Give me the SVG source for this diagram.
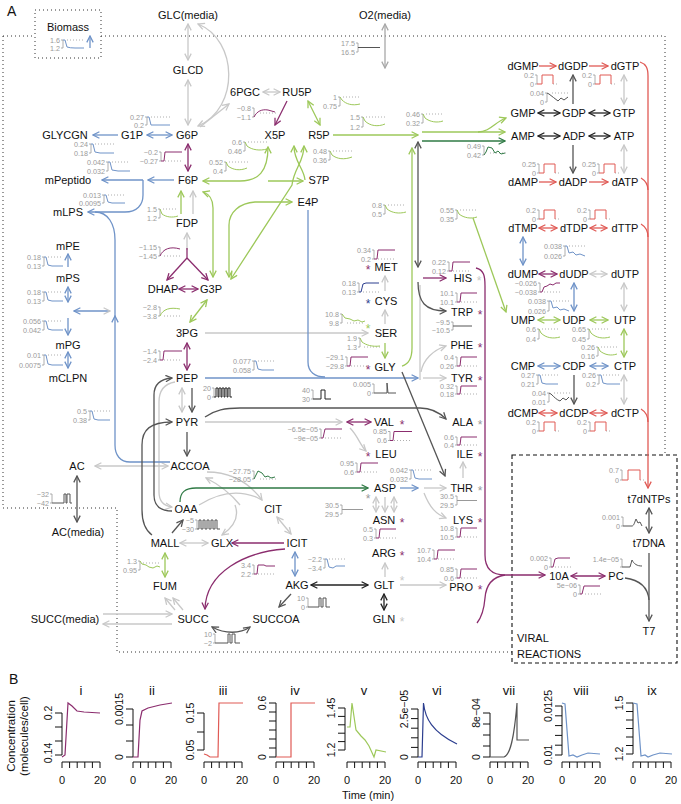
<svg xmlns="http://www.w3.org/2000/svg" width="681" height="804" viewBox="0 0 681 804">
<defs>
<style>
.n{font:11px "Liberation Sans",Arial,sans-serif;fill:#111;text-anchor:middle}
.ne{font:11px "Liberation Sans",Arial,sans-serif;fill:#111;text-anchor:end}
.big{font:14px "Liberation Sans",Arial,sans-serif;fill:#111}
.l{font:7.2px "Liberation Sans",Arial,sans-serif;fill:#9a9a9a;text-anchor:end}
.ast{font:12px "Liberation Sans",Arial,sans-serif;text-anchor:middle}
.tk{font:10.5px "Liberation Sans",Arial,sans-serif;fill:#111;text-anchor:middle}
.tt{font:13px "Liberation Sans",Arial,sans-serif;fill:#111;text-anchor:middle}
path{fill:none}
.e{stroke-width:1.3}
.g0,.g1,.g2{stroke:#c8c8c8}.g1,.g2{marker-end:url(#ag)}.g2{marker-start:url(#ag)}
.o2{stroke:#a8a8a8;marker-end:url(#ao);marker-start:url(#ao)}
.b0,.b1,.b2{stroke:#6f93c8}.b1,.b2{marker-end:url(#ab)}.b2{marker-start:url(#ab)}
.p0,.p1,.p2{stroke:#8b2d6e}.p1,.p2{marker-end:url(#ap)}.p2{marker-start:url(#ap)}
.v0,.v1,.v2{stroke:#9dc85a}.v1,.v2{marker-end:url(#av)}.v2{marker-start:url(#av)}
.d1{stroke:#2f7a45;marker-end:url(#ad)}
.k0,.k1,.k2{stroke:#555}.k1,.k2{marker-end:url(#ak)}.k2{marker-start:url(#ak)}
.x2{stroke:#222;marker-end:url(#ax);marker-start:url(#ax)}
.r0,.r1,.r2{stroke:#e05a55}.r1,.r2{marker-end:url(#ar)}.r2{marker-start:url(#ar)}
.br{stroke:#9a9a9a;stroke-width:0.8}
.dt{stroke:#9a9a9a;stroke-width:0.8;stroke-dasharray:1 2}
.sb{stroke:#6f93c8;stroke-width:1}
.sp{stroke:#8b2d6e;stroke-width:1}
.sv{stroke:#9dc85a;stroke-width:1}
.sd{stroke:#2f7a45;stroke-width:1}
.sk{stroke:#555;stroke-width:1}
.sx{stroke:#222;stroke-width:1}
.sr{stroke:#e05a55;stroke-width:1}
.sn{stroke:#2c3e8f;stroke-width:1}
.sg{stroke:#999;stroke-width:1}
.dot{stroke:#333;stroke-width:1;stroke-dasharray:1 3}
.dash{stroke:#111;stroke-width:1.1;stroke-dasharray:4 3}
.ax{stroke:#111;stroke-width:1}
</style>
<marker id="ag" viewBox="0 0 10 10" refX="9" refY="5" markerWidth="8" markerHeight="8" markerUnits="userSpaceOnUse" orient="auto-start-reverse"><path d="M1,1 L9,5 L1,9" stroke="#c8c8c8" stroke-width="1.6"/></marker>
<marker id="ao" viewBox="0 0 10 10" refX="9" refY="5" markerWidth="8" markerHeight="8" markerUnits="userSpaceOnUse" orient="auto-start-reverse"><path d="M1,1 L9,5 L1,9" stroke="#a8a8a8" stroke-width="1.6"/></marker>
<marker id="ab" viewBox="0 0 10 10" refX="9" refY="5" markerWidth="8" markerHeight="8" markerUnits="userSpaceOnUse" orient="auto-start-reverse"><path d="M1,1 L9,5 L1,9" stroke="#6f93c8" stroke-width="1.6"/></marker>
<marker id="ap" viewBox="0 0 10 10" refX="9" refY="5" markerWidth="8" markerHeight="8" markerUnits="userSpaceOnUse" orient="auto-start-reverse"><path d="M1,1 L9,5 L1,9" stroke="#8b2d6e" stroke-width="1.6"/></marker>
<marker id="av" viewBox="0 0 10 10" refX="9" refY="5" markerWidth="8" markerHeight="8" markerUnits="userSpaceOnUse" orient="auto-start-reverse"><path d="M1,1 L9,5 L1,9" stroke="#9dc85a" stroke-width="1.6"/></marker>
<marker id="ad" viewBox="0 0 10 10" refX="9" refY="5" markerWidth="8" markerHeight="8" markerUnits="userSpaceOnUse" orient="auto-start-reverse"><path d="M1,1 L9,5 L1,9" stroke="#2f7a45" stroke-width="1.6"/></marker>
<marker id="ak" viewBox="0 0 10 10" refX="9" refY="5" markerWidth="8" markerHeight="8" markerUnits="userSpaceOnUse" orient="auto-start-reverse"><path d="M1,1 L9,5 L1,9" stroke="#555" stroke-width="1.6"/></marker>
<marker id="ax" viewBox="0 0 10 10" refX="9" refY="5" markerWidth="8" markerHeight="8" markerUnits="userSpaceOnUse" orient="auto-start-reverse"><path d="M1,1 L9,5 L1,9" stroke="#222" stroke-width="1.6"/></marker>
<marker id="ar" viewBox="0 0 10 10" refX="9" refY="5" markerWidth="8" markerHeight="8" markerUnits="userSpaceOnUse" orient="auto-start-reverse"><path d="M1,1 L9,5 L1,9" stroke="#e05a55" stroke-width="1.6"/></marker>
</defs>
<rect width="681" height="804" fill="#fff"/>

<text class="big" x="7" y="16">A</text>
<text class="big" x="9" y="684">B</text>

<g id="borders">
<rect class="dot" x="35" y="10" width="66" height="48" fill="none"/>
<path class="dot" d="M3,36 H35 M101,36 H665 V455 M3,36 V508 H117 V652 H512"/>
<rect class="dash" x="512" y="455" width="165" height="208" fill="none"/>
<text class="n" x="517" y="642" style="text-anchor:start">VIRAL</text>
<text class="n" x="517" y="658" style="text-anchor:start">REACTIONS</text>
</g>

<g id="connectors" class="e">
<path class="g2" d="M188,24 V60"/>
<path class="g2" d="M188,80 V125"/>
<path class="g2" d="M198,24 C238,40 240,108 198,126"/>
<path class="g1" d="M200,127 L229,104"/>
<path class="g2" d="M263,92 H280"/>
<path class="o2" d="M385,24 V68"/>
<path class="g1" d="M193,214 V191"/>
<path class="g1" d="M187,250 V233"/>
<path class="g1" d="M205,333 H368"/>
<path class="g2" d="M182,388 V412"/>
<path class="g2" d="M95,466 H168"/>
<path class="g1" d="M205,422 H342"/>
<path class="g1" d="M350,428 C358,436 360,445 366,451"/>
<path class="g1" d="M175,382 C163,384 159,392 159,402 V492 C159,502 164,506 172,507"/>
<path class="g1" d="M207,472 C232,472 250,484 262,500"/>
<path class="g0" d="M199,505 C218,493 238,490 256,497"/>
<path class="g1" d="M240,505 C232,495 220,485 206,478"/>
<path class="g1" d="M235,505 C240,518 232,528 222,535"/>
<path class="g2" d="M180,543 H208"/>
<path class="g2" d="M277,517 L291,534"/>
<path class="g1" d="M175,610 L165,598"/>
<path class="g1" d="M183,610 L173,598"/>
<path class="g1" d="M103,614 H172"/>
<path class="g1" d="M172,624 H103"/>
<path class="g1" d="M385,577 V563"/>
<path class="g2" d="M376,497 V512"/>
<path class="g1" d="M385,497 V512"/>
<path class="g2" d="M394,497 V512"/>
<path class="g1" d="M400,585 H446"/>
<path class="g1" d="M424,488 H446"/>
<path class="g1" d="M424,493 C430,508 436,514 446,518"/>
<path class="g1" d="M463,478 V462"/>
<path class="g1" d="M385,324 V310"/>
<path class="g1" d="M385,291 V276"/>
<path class="g0" d="M420,285 V380"/>
<path class="g1" d="M423,378 H446"/>
<path class="g1" d="M421,372 C423,360 433,350 446,346"/>
<path class="g2" d="M624,75 V104"/>
<path class="g2" d="M624,145 V173"/>
<path class="g2" d="M590,274 H607"/>
<path class="g2" d="M624,283 V311"/>
<path class="g2" d="M624,375 V404"/>
<path class="b1" d="M90,48 V36"/>
<path class="b2" d="M147,135 H172"/>
<path class="b1" d="M118,135 H93"/>
<path class="b1" d="M174,180 H148"/>
<path class="b1" d="M143,180 H102"/>
<path class="b1" d="M143,180 V195 C143,205 137,212 125,212 H88"/>
<path class="b1" d="M170,462 H130 C120,462 115,455 115,445 V316"/>
<path class="b0" d="M115,318 V240 C115,224 108,212 95,212"/>
<path class="b0" d="M74,311 H110" style="marker-start:url(#ab);marker-end:url(#ag)"/>
<path class="b1" d="M68,267 V254"/>
<path class="b2" d="M68,287 V302"/>
<path class="b1" d="M68,318 V335"/>
<path class="b2" d="M68,352 V368"/>
<path class="b1" d="M205,378 H418"/>
<path class="b0" d="M308,210 V362 C308,372 315,377 325,377"/>
<path class="b2" d="M295,552 V576"/>
<path class="b1" d="M400,488 H418"/>
<path class="b2" d="M523,237 V265"/>
<path class="b2" d="M574,283 V311"/>
<path class="b2" d="M538,366 H560"/>
<path class="b2" d="M590,366 H608"/>
<path class="p1" d="M287,101 L275,125"/>
<path class="p2" d="M188,144 V171"/>
<path class="p0" d="M187,248 V258"/>
<path class="p1" d="M187,258 L167,280"/>
<path class="p1" d="M187,258 L208,280"/>
<path class="p2" d="M179,289 H198"/>
<path class="p2" d="M187,343 V370"/>
<path class="p2" d="M347,422 H371"/>
<path class="p1" d="M284,543 H232"/>
<path class="p1" d="M285,549 C245,552 206,572 205,609"/>
<path class="p1" d="M423,278 H446"/>
<path class="p1" d="M476,268 C484,270 485,276 485,286 V555 C485,568 492,575 505,575 H545"/>
<path class="p0" d="M505,575 C492,577 486,585 485,598 C484,610 481,618 477,623"/>
<path class="p2" d="M571,576 H605"/>
<path class="p2" d="M539,274 H557"/>
<path class="v2" d="M308,101 L320,125"/>
<path class="v1" d="M333,135 H418"/>
<path class="v1" d="M422,132 H505"/>
<path class="v1" d="M478,132 C490,132 495,122 506,118"/>
<path class="v1" d="M402,366 C409,364 412,358 412,348 V148"/>
<path class="v2" d="M207,300 L190,322"/>
<path class="v2" d="M165,553 V577"/>
<path class="v1" d="M385,343 V358"/>
<path class="v2" d="M538,320 H560"/>
<path class="v2" d="M590,320 H608"/>
<path class="v2" d="M624,329 V357"/>
<path class="v1" d="M473,218 L506,312"/>
<path class="v1" d="M181,214 V191"/>
<path class="v2" d="M203,181 H240 C258,181 268,172 268,147"/>
<path class="v1" d="M268,181 H303"/>
<path class="v2" d="M213,277 V208 C213,198 209,194 203,192"/>
<path class="v2" d="M229,277 V225 C229,212 240,203 255,202 H292"/>
<path class="v0" d="M294,146 C294,162 304,168 305,180" style="marker-start:url(#av)"/>
<path class="v2" d="M304,146 C304,162 294,168 292,185 L231,279"/>
<path class="d1" d="M180,502 C180,492 185,488 196,488 H368"/>
<path class="d1" d="M422,141 H505"/>
<path class="k1" d="M192,388 V412"/>
<path class="k1" d="M187,432 V456"/>
<path class="k1" d="M152,535 C145,530 142,522 142,510 V445 C142,430 150,422 172,422"/>
<path class="k1" d="M172,511 C160,511 154,505 154,495 V395 C154,385 160,379 172,378"/>
<path class="k1" d="M172,533 L183,520"/>
<path class="k2" d="M77,476 V522"/>
<path class="k1" d="M291,594 L279,607"/>
<path class="k2" d="M212,627 C225,634 240,634 250,627"/>
<path class="k1" d="M205,417 C215,410 225,408 240,408 H420 C432,408 440,413 446,419"/>
<path class="k1" d="M402,372 L445,476"/>
<path class="k2" d="M418,142 V267"/>
<path class="k1" d="M418,282 C418,302 425,311 446,311"/>
<path class="k1" d="M573,104 V75"/>
<path class="k1" d="M573,145 V173"/>
<path class="k1" d="M574,375 V404"/>
<path class="k2" d="M649,508 V533"/>
<path class="k1" d="M649,553 V621"/>
<path class="k0" d="M625,578 C640,580 648,588 649,600"/>
<path class="x2" d="M538,113 H560"/>
<path class="x2" d="M589,113 H610"/>
<path class="x2" d="M538,136 H560"/>
<path class="x2" d="M589,136 H610"/>
<path class="x2" d="M311,585 H368"/>
<path class="x2" d="M384,594 V610"/>
<path class="r1" d="M539,66 H556"/>
<path class="r1" d="M589,66 H608"/>
<path class="r1" d="M539,182 H556"/>
<path class="r1" d="M589,182 H608"/>
<path class="r2" d="M539,228 H557"/>
<path class="r2" d="M590,228 H607"/>
<path class="r2" d="M539,413 H557"/>
<path class="r2" d="M590,413 H607"/>
<path class="r1" d="M640,62 C646,64 648,68 648,76 V488"/>
<path class="r0" d="M641,178 C646,181 648,184 648,190"/>
<path class="r0" d="M641,224 C646,227 648,231 648,237"/>
<path class="r0" d="M641,409 C646,412 648,416 648,422"/>
</g>

<g id="sparklines">
<g><text class="l" x="60" y="42.5">1.6</text><text class="l" x="60" y="50.5">1.2</text><path class="br" d="M61,40H63V48H61"/><path class="dt" d="M67,40H84"/><path class="sb" d="M63,40H65L67,47Q70,48 75,48H84"/></g>
<g><text class="l" x="355" y="45.5">17.5</text><text class="l" x="355" y="54.5">16.5</text><path class="br" d="M356,43H358V52H356"/><path class="sk" d="M358,47.5H380"/></g>
<g><text class="l" x="144" y="119.5">0.27</text><text class="l" x="144" y="127.5">0.2</text><path class="br" d="M145,117H147V125H145"/><path class="dt" d="M151,117H170"/><path class="sb" d="M147,117H149L151,125H170"/></g>
<g><text class="l" x="88" y="146.5">0.24</text><text class="l" x="88" y="155.5">0.18</text><path class="br" d="M89,144H91V153H89"/><path class="dt" d="M95,144H114"/><path class="sb" d="M91,144H93L95,152L100,153H114"/></g>
<g><text class="l" x="105" y="164.5">0.042</text><text class="l" x="105" y="173.5">0.032</text><path class="br" d="M106,162H108V171H106"/><path class="dt" d="M112,162H130"/><path class="sb" d="M108,162H110L112,170L118,171H130"/></g>
<g><text class="l" x="158" y="154.5">−0.2</text><text class="l" x="158" y="163.5">−0.27</text><path class="br" d="M159,152H161V161H159"/><path class="dt" d="M165,161H182"/><path class="sp" d="M161,161H164L165,152H182"/></g>
<g><text class="l" x="251" y="110.5">−0.8</text><text class="l" x="251" y="119.5">−1.1</text><path class="br" d="M252,108H254V117H252"/><path class="dt" d="M260,113H277"/><path class="sp" d="M254,117C257,111 262,109 268,110L275,112"/></g>
<g><text class="l" x="337" y="99.5">1</text><text class="l" x="337" y="108.5">0.75</text><path class="br" d="M338,97H340V106H338"/><path class="dt" d="M343,97H361"/><path class="sv" d="M340,97L342,100C346,104 352,106 360,104"/></g>
<g><text class="l" x="360" y="119.5">1.5</text><text class="l" x="360" y="129.5">1.2</text><path class="br" d="M361,117H363V127H361"/><path class="dt" d="M366,117H385"/><path class="sv" d="M363,117L365,121C370,126 378,127 385,124"/></g>
<g><text class="l" x="242" y="144.5">0.6</text><text class="l" x="242" y="153.5">0.46</text><path class="br" d="M243,142H245V151H243"/><path class="dt" d="M248,142H268"/><path class="sv" d="M245,142L247,146C252,150 260,151 267,149"/></g>
<g><text class="l" x="223" y="164.5">0.52</text><text class="l" x="223" y="173.5">0.4</text><path class="br" d="M224,162H226V171H224"/><path class="dt" d="M229,162H248"/><path class="sv" d="M226,162L228,166C233,170 240,171 247,168"/></g>
<g><text class="l" x="327" y="153.5">0.48</text><text class="l" x="327" y="162.5">0.36</text><path class="br" d="M328,151H330V160H328"/><path class="dt" d="M333,151H353"/><path class="sv" d="M330,151L332,155C337,159 344,160 352,157"/></g>
<g><text class="l" x="420" y="116.5">0.46</text><text class="l" x="420" y="125.5">0.32</text><path class="br" d="M421,114H423V123H421"/><path class="dt" d="M426,114H444"/><path class="sv" d="M423,114L425,118C430,122 437,123 443,121"/></g>
<g><text class="l" x="481" y="148.5">0.49</text><text class="l" x="481" y="157.5">0.42</text><path class="br" d="M482,146H484V155H482"/><path class="dt" d="M490,153H506"/><path class="sd" d="M484,155L486,152L488,147L492,148L495,153L498,151L501,154L505,153"/></g>
<g><text class="l" x="157" y="211.5">1.5</text><text class="l" x="157" y="220.5">1.2</text><path class="br" d="M158,209H160V218H158"/><path class="dt" d="M163,209H178"/><path class="sv" d="M160,209L162,214C166,217 172,218 178,216"/></g>
<g><text class="l" x="101" y="197.5">0.013</text><text class="l" x="101" y="205.5">0.0095</text><path class="br" d="M102,195H104V203H102"/><path class="dt" d="M108,195H125"/><path class="sb" d="M104,195H106L108,202L112,203H125"/></g>
<g><text class="l" x="41" y="259.5">0.18</text><text class="l" x="41" y="268.5">0.13</text><path class="br" d="M42,257H44V266H42"/><path class="dt" d="M48,257H63"/><path class="sb" d="M44,257H46L48,265L52,266H63"/></g>
<g><text class="l" x="41" y="294.5">0.18</text><text class="l" x="41" y="303.5">0.13</text><path class="br" d="M42,292H44V301H42"/><path class="dt" d="M48,292H63"/><path class="sb" d="M44,292H46L48,300L52,301H63"/></g>
<g><text class="l" x="41" y="323.5">0.056</text><text class="l" x="41" y="332.5">0.042</text><path class="br" d="M42,321H44V330H42"/><path class="dt" d="M48,321H63"/><path class="sb" d="M44,321H46L48,329L52,330H63"/></g>
<g><text class="l" x="41" y="357.5">0.01</text><text class="l" x="41" y="367.5">0.0075</text><path class="br" d="M42,355H44V365H42"/><path class="dt" d="M48,355H63"/><path class="sb" d="M44,355H46L48,364L52,365H63"/></g>
<g><text class="l" x="157" y="249.5">−1.15</text><text class="l" x="157" y="258.5">−1.45</text><path class="br" d="M158,247H160V256H158"/><path class="dt" d="M164,256H180"/><path class="sp" d="M160,256C163,249 170,246 180,249"/></g>
<g><text class="l" x="157" y="309.5">−2.8</text><text class="l" x="157" y="318.5">−3.8</text><path class="br" d="M158,307H160V316H158"/><path class="dt" d="M164,316H181"/><path class="sv" d="M160,316C163,309 170,307 180,309"/></g>
<g><text class="l" x="157" y="353.5">−1.4</text><text class="l" x="157" y="362.5">−2.4</text><path class="br" d="M158,351H160V360H158"/><path class="dt" d="M164,360H182"/><path class="sp" d="M160,360H163L164,351H182"/></g>
<g><text class="l" x="211" y="390.5">20</text><text class="l" x="211" y="399.5">0</text><path class="br" d="M212,388H214V397H212"/><path class="sx" d="M214,397H216V388H218V397H219V388H221V397H222V388H224V397H225V388H227V397H228V388H230V397H232"/></g>
<g><text class="l" x="251" y="363.5">0.077</text><text class="l" x="251" y="372.5">0.058</text><path class="br" d="M252,361H254V370H252"/><path class="dt" d="M258,361H274"/><path class="sb" d="M254,361H256L258,369L262,370H274"/></g>
<g><text class="l" x="310" y="392.5">40</text><text class="l" x="310" y="401.5">30</text><path class="br" d="M311,390H313V399H311"/><path class="sx" d="M313,399H321V390H325V399H331"/></g>
<g><text class="l" x="371" y="386.5">0.005</text><text class="l" x="371" y="395.5">0</text><path class="br" d="M372,384H374V393H372"/><path class="sk" d="M374,393H387V383L388,393H396"/></g>
<g><text class="l" x="87" y="413.5">0.5</text><text class="l" x="87" y="422.5">0.38</text><path class="br" d="M88,411H90V420H88"/><path class="dt" d="M94,411H110"/><path class="sb" d="M90,411H92L94,419L98,420H110"/></g>
<g><text class="l" x="49" y="496.5">−32</text><text class="l" x="49" y="505.5">−42</text><path class="br" d="M50,494H52V503H50"/><path class="sk" d="M52,503H64V494H66V503H67V494H70V503H72"/></g>
<g><text class="l" x="194" y="522.5">−5</text><text class="l" x="194" y="531.5">−30</text><path class="br" d="M195,520H197V529H195"/><path class="sk" d="M197,529H199V520H201V529H203V520H205V529H207V520H209V529H211V520H213V529H215V520H217V529H220"/></g>
<g><text class="l" x="251" y="473.5">−27.75</text><text class="l" x="251" y="481.5">−28.05</text><path class="br" d="M252,471H254V479H252"/><path class="dt" d="M260,479H276"/><path class="sd" d="M254,479L256,475L258,471L262,473L265,477L268,476L271,478L275,477"/></g>
<g><text class="l" x="137" y="563.5">1.3</text><text class="l" x="137" y="572.5">0.95</text><path class="br" d="M138,561H140V570H138"/><path class="dt" d="M143,563H160"/><path class="sv" d="M140,561L142,564L146,565L149,567L153,568L157,566L160,567"/></g>
<g><text class="l" x="251" y="567.5">3.4</text><text class="l" x="251" y="576.5">2.2</text><path class="br" d="M252,565H254V574H252"/><path class="dt" d="M258,574H275"/><path class="sp" d="M254,574H257L258,565H264L266,566H275"/></g>
<g><text class="l" x="322" y="561.5">−2.2</text><text class="l" x="322" y="570.5">−3.4</text><path class="br" d="M323,559H325V568H323"/><path class="dt" d="M329,559H345"/><path class="sb" d="M325,559H327L329,567L333,568L336,566H345"/></g>
<g><text class="l" x="305" y="600.5">10</text><text class="l" x="305" y="609.5">0</text><path class="br" d="M306,598H308V607H306"/><path class="sk" d="M308,607H319V598H321V607H323V598H326V607H330"/></g>
<g><text class="l" x="212" y="636.5">10</text><text class="l" x="212" y="645.5">−2</text><path class="br" d="M213,634H215V643H213"/><path class="sk" d="M215,643H228V634H230V643H232V634H235V643H240"/></g>
<g><text class="l" x="318" y="431.5">−6.5e−05</text><text class="l" x="318" y="440.5">−9e−05</text><path class="br" d="M319,429H321V438H319"/><path class="dt" d="M325,438H342"/><path class="sp" d="M321,438H323L325,429H342"/></g>
<g><text class="l" x="387" y="434">0.85</text><text class="l" x="387" y="443">0.6</text><path class="br" d="M388,431.5H390V440.5H388"/><path class="dt" d="M394,440.5H412"/><path class="sp" d="M390,440.5H393L394,431.5H412"/></g>
<g><text class="l" x="354" y="465.5">0.95</text><text class="l" x="354" y="474.5">0.6</text><path class="br" d="M355,463H357V472H355"/><path class="dt" d="M361,472H378"/><path class="sp" d="M357,472H360L361,463H378"/></g>
<g><text class="l" x="408" y="472.5">0.042</text><text class="l" x="408" y="481.5">0.032</text><path class="br" d="M409,470H411V479H409"/><path class="dt" d="M415,470H432"/><path class="sb" d="M411,470H413L415,478L419,479H432"/></g>
<g><text class="l" x="339" y="507.5">30.5</text><text class="l" x="339" y="516.5">29.5</text><path class="br" d="M340,505H342V514H340"/><path class="sg" d="M342,509.5H363"/></g>
<g><text class="l" x="373" y="531.5">0.5</text><text class="l" x="373" y="540.5">0.3</text><path class="br" d="M374,529H376V538H374"/><path class="dt" d="M380,538H396"/><path class="sp" d="M376,538H379L380,529H396"/></g>
<g><text class="l" x="431" y="552.5">10.7</text><text class="l" x="431" y="561.5">10.4</text><path class="br" d="M432,550H434V559H432"/><path class="dt" d="M438,559H455"/><path class="sp" d="M434,559H437L438,550H455"/></g>
<g><text class="l" x="454" y="498.5">30.5</text><text class="l" x="454" y="507.5">29.5</text><path class="br" d="M455,496H457V505H455"/><path class="sg" d="M457,500.5H477"/></g>
<g><text class="l" x="454" y="530.5">10.8</text><text class="l" x="454" y="539.5">10.5</text><path class="br" d="M455,528H457V537H455"/><path class="dt" d="M461,537H477"/><path class="sp" d="M457,537H460L461,528H477"/></g>
<g><text class="l" x="454" y="439.5">0.6</text><text class="l" x="454" y="447.5">0.4</text><path class="br" d="M455,437H457V445H455"/><path class="dt" d="M461,445H477"/><path class="sp" d="M457,445H460L461,437H477"/></g>
<g><text class="l" x="454" y="571.5">0.85</text><text class="l" x="454" y="580.5">0.6</text><path class="br" d="M455,569H457V578H455"/><path class="dt" d="M461,578H477"/><path class="sp" d="M457,578H460L461,569H477"/></g>
<g><text class="l" x="454" y="388.5">0.32</text><text class="l" x="454" y="396.5">0.18</text><path class="br" d="M455,386H457V394H455"/><path class="dt" d="M461,394H477"/><path class="sp" d="M457,394H460L461,386H477"/></g>
<g><text class="l" x="454" y="359.5">0.4</text><text class="l" x="454" y="368.5">0.26</text><path class="br" d="M455,357H457V366H455"/><path class="dt" d="M461,366H477"/><path class="sp" d="M457,366H460L461,357H477"/></g>
<g><text class="l" x="450" y="324.5">−9.5</text><text class="l" x="450" y="332.5">−10.5</text><path class="br" d="M451,322H453V330H451"/><path class="sk" d="M453,326H472"/></g>
<g><text class="l" x="454" y="295.5">10.1</text><text class="l" x="454" y="304.5">10.1</text><path class="br" d="M455,293H457V302H455"/><path class="dt" d="M461,302H477"/><path class="sp" d="M457,302H460L461,293H477"/></g>
<g><text class="l" x="446" y="264.5">0.22</text><text class="l" x="446" y="273.5">0.12</text><path class="br" d="M447,262H449V271H447"/><path class="dt" d="M453,271H470"/><path class="sp" d="M449,271H452L453,262H470"/></g>
<g><text class="l" x="344" y="359.5">−29.1</text><text class="l" x="344" y="368.5">−29.8</text><path class="br" d="M345,357H347V366H345"/><path class="dt" d="M351,366H368"/><path class="sp" d="M347,366H350L351,357H368"/></g>
<g><text class="l" x="339" y="316.5">10.8</text><text class="l" x="339" y="325.5">9.8</text><path class="br" d="M340,314H342V323H340"/><path class="dt" d="M347,323H365"/><path class="sv" d="M342,314L345,318L350,319L354,321L358,320L362,322L365,321"/></g>
<g><text class="l" x="357" y="340.5">1.9</text><text class="l" x="357" y="349.5">1.3</text><path class="br" d="M358,338H360V347H358"/><path class="dt" d="M364,347H380"/><path class="sv" d="M360,338L362,342C366,345 372,347 380,346"/></g>
<g><text class="l" x="356" y="285.5">0.18</text><text class="l" x="356" y="294.5">0.13</text><path class="br" d="M357,283H359V292H357"/><path class="dt" d="M363,292H379"/><path class="sn" d="M359,292H361L363,284L366,283H379"/></g>
<g><text class="l" x="371" y="252.5">0.34</text><text class="l" x="371" y="261.5">0.2</text><path class="br" d="M372,250H374V259H372"/><path class="dt" d="M378,259H395"/><path class="sp" d="M374,259H377L378,250H395"/></g>
<g><text class="l" x="382" y="207.5">0.8</text><text class="l" x="382" y="216.5">0.5</text><path class="br" d="M383,205H385V214H383"/><path class="dt" d="M388,205H406"/><path class="sv" d="M385,205L387,209C392,213 399,214 406,212"/></g>
<g><text class="l" x="454" y="212.5">0.55</text><text class="l" x="454" y="221.5">0.35</text><path class="br" d="M455,210H457V219H455"/><path class="dt" d="M460,210H477"/><path class="sv" d="M457,210L459,214C464,218 471,219 477,217"/></g>
<g><text class="l" x="534" y="77.5">0.2</text><text class="l" x="534" y="86.5">0</text><path class="br" d="M535,75H537V84H535"/><path class="dt" d="M553,84H559"/><path class="sr" d="M537,84H542V75H553V84"/></g>
<g><text class="l" x="592" y="77.5">0.2</text><text class="l" x="592" y="86.5">0</text><path class="br" d="M593,75H595V84H593"/><path class="dt" d="M611,84H617"/><path class="sr" d="M595,84H600V75H611V84"/></g>
<g><text class="l" x="544" y="95.5">0.04</text><text class="l" x="544" y="104.5">0</text><path class="br" d="M545,93H547V102H545"/><path class="dt" d="M552,93H569"/><path class="sk" d="M547,93L549,94C552,96 555,99 558,101L561,98L564,100L568,97"/></g>
<g><text class="l" x="536" y="166.5">0.25</text><text class="l" x="536" y="175.5">0</text><path class="br" d="M537,164H539V173H537"/><path class="dt" d="M555,173H561"/><path class="sr" d="M539,173H544V164H555V173"/></g>
<g><text class="l" x="596" y="166.5">0.25</text><text class="l" x="596" y="175.5">0</text><path class="br" d="M597,164H599V173H597"/><path class="dt" d="M615,173H621"/><path class="sr" d="M599,173H604V164H615V173"/></g>
<g><text class="l" x="536" y="212.5">0.2</text><text class="l" x="536" y="221.5">0</text><path class="br" d="M537,210H539V219H537"/><path class="dt" d="M555,219H561"/><path class="sr" d="M539,219H544V210H555V219"/></g>
<g><text class="l" x="587" y="212.5">0.2</text><text class="l" x="587" y="221.5">0</text><path class="br" d="M588,210H590V219H588"/><path class="dt" d="M606,219H612"/><path class="sr" d="M590,219H595V210H606V219"/></g>
<g><text class="l" x="562" y="248.5">0.038</text><text class="l" x="562" y="258.5">0.026</text><path class="br" d="M563,246H565V256H563"/><path class="dt" d="M569,246H586"/><path class="sb" d="M565,246H567L569,253L573,252L576,255L580,254L585,256"/></g>
<g><text class="l" x="537" y="285.5">−0.026</text><text class="l" x="537" y="294.5">−0.038</text><path class="br" d="M538,283H540V292H538"/><path class="dt" d="M544,292H561"/><path class="sp" d="M540,292H542L544,287L547,286L550,284L553,285L556,283H560"/></g>
<g><text class="l" x="546" y="303.5">0.038</text><text class="l" x="546" y="313.5">0.026</text><path class="br" d="M547,301H549V311H547"/><path class="dt" d="M553,301H570"/><path class="sb" d="M549,301H551L553,308L557,307L560,310L564,309L569,311"/></g>
<g><text class="l" x="536" y="331.5">0.6</text><text class="l" x="536" y="341.5">0.4</text><path class="br" d="M537,329H539V339H537"/><path class="dt" d="M542,329H560"/><path class="sv" d="M539,329L541,333C546,338 553,339 560,337"/></g>
<g><text class="l" x="586" y="331.5">0.65</text><text class="l" x="586" y="341.5">0.45</text><path class="br" d="M587,329H589V339H587"/><path class="dt" d="M592,329H610"/><path class="sv" d="M589,329L591,333C596,338 603,339 610,337"/></g>
<g><text class="l" x="595" y="349.5">0.26</text><text class="l" x="595" y="358.5">0.16</text><path class="br" d="M596,347H598V356H596"/><path class="dt" d="M601,347H618"/><path class="sv" d="M598,347L600,351C605,355 611,356 617,354"/></g>
<g><text class="l" x="535" y="377.5">0.27</text><text class="l" x="535" y="386.5">0.21</text><path class="br" d="M536,375H538V384H536"/><path class="dt" d="M542,375H558"/><path class="sb" d="M538,375H540L542,383L546,384H558"/></g>
<g><text class="l" x="596" y="377.5">0.26</text><text class="l" x="596" y="386.5">0.2</text><path class="br" d="M597,375H599V384H597"/><path class="dt" d="M603,375H620"/><path class="sb" d="M599,375H601L603,383L607,384H620"/></g>
<g><text class="l" x="546" y="395.5">0.04</text><text class="l" x="546" y="404.5">0.01</text><path class="br" d="M547,393H549V402H547"/><path class="dt" d="M554,393H570"/><path class="sk" d="M549,393L551,394C554,397 557,400 560,401L563,398L566,400L569,397"/></g>
<g><text class="l" x="536" y="424.5">0.2</text><text class="l" x="536" y="433.5">0</text><path class="br" d="M537,422H539V431H537"/><path class="dt" d="M555,431H561"/><path class="sr" d="M539,431H544V422H555V431"/></g>
<g><text class="l" x="587" y="424.5">0.2</text><text class="l" x="587" y="433.5">0</text><path class="br" d="M588,422H590V431H588"/><path class="dt" d="M606,431H612"/><path class="sr" d="M590,431H595V422H606V431"/></g>
<g><text class="l" x="619" y="472.5">0.7</text><text class="l" x="619" y="482.5">0</text><path class="br" d="M620,470H622V480H620"/><path class="dt" d="M640,480H645"/><path class="sr" d="M622,480H628V470H640V480"/></g>
<g><text class="l" x="620" y="519.5">0.001</text><text class="l" x="620" y="528.5">0</text><path class="br" d="M621,517H623V526H621"/><path class="sk" d="M623,526H632C634,526 635,521 636,519L638,523L640,522L642,526"/></g>
<g><text class="l" x="548" y="560.5">0.002</text><text class="l" x="548" y="569.5">0</text><path class="br" d="M549,558H551V567H549"/><path class="dt" d="M555,567H571"/><path class="sp" d="M551,567H553L555,559L558,558H570"/></g>
<g><text class="l" x="619" y="561.5">1.4e−05</text><path class="br" d="M620,559H622V567H620"/><path class="sk" d="M622,567H630L632,560C634,564 637,566 642,566"/></g>
<g><text class="l" x="577" y="587.5">5e−06</text><text class="l" x="577" y="596.5">0</text><path class="br" d="M578,585H580V594H578"/><path class="dt" d="M585,594H603"/><path class="sp" d="M580,594H582L584,586H600"/></g>
</g>

<g id="nodes">
<g id="n-Biomass"><text class="n" x="68" y="31">Biomass</text></g>
<g id="n-GLCmedia"><text class="n" x="188" y="19">GLC(media)</text></g>
<g id="n-O2media"><text class="n" x="385" y="19">O2(media)</text></g>
<g id="n-GLCD"><text class="n" x="188" y="74">GLCD</text></g>
<g id="n-6PGC"><text class="n" x="245" y="96">6PGC</text></g>
<g id="n-RU5P"><text class="n" x="297" y="96">RU5P</text></g>
<g id="n-G6P"><text class="n" x="187" y="139">G6P</text></g>
<g id="n-G1P"><text class="n" x="132" y="139">G1P</text></g>
<g id="n-GLYCGN"><text class="n" x="65" y="139">GLYCGN</text></g>
<g id="n-X5P"><text class="n" x="275" y="139">X5P</text></g>
<g id="n-R5P"><text class="n" x="319" y="139">R5P</text></g>
<g id="n-F6P"><text class="n" x="188" y="184">F6P</text></g>
<g id="n-mPeptido"><text class="n" x="68" y="184">mPeptido</text></g>
<g id="n-S7P"><text class="n" x="319" y="184">S7P</text></g>
<g id="n-E4P"><text class="n" x="308" y="206">E4P</text></g>
<g id="n-mLPS"><text class="n" x="68" y="216">mLPS</text></g>
<g id="n-FDP"><text class="n" x="187" y="227">FDP</text></g>
<g id="n-mPE"><text class="n" x="68" y="250">mPE</text></g>
<g id="n-mPS"><text class="n" x="68" y="282">mPS</text></g>
<g id="n-DHAP"><text class="n" x="163" y="293">DHAP</text></g>
<g id="n-G3P"><text class="n" x="211" y="293">G3P</text></g>
<g id="n-3PG"><text class="n" x="187" y="337">3PG</text></g>
<g id="n-mPG"><text class="n" x="68" y="349">mPG</text></g>
<g id="n-mCLPN"><text class="n" x="68" y="382">mCLPN</text></g>
<g id="n-PEP"><text class="n" x="187" y="382">PEP</text></g>
<g id="n-PYR"><text class="n" x="187" y="426">PYR</text></g>
<g id="n-ACCOA"><text class="n" x="190" y="470">ACCOA</text></g>
<g id="n-AC"><text class="n" x="77" y="470">AC</text></g>
<g id="n-OAA"><text class="n" x="186" y="513">OAA</text></g>
<g id="n-CIT"><text class="n" x="273" y="513">CIT</text></g>
<g id="n-ACmedia"><text class="n" x="78" y="536">AC(media)</text></g>
<g id="n-MALL"><text class="n" x="165" y="547">MALL</text></g>
<g id="n-GLX"><text class="n" x="222" y="547">GLX</text></g>
<g id="n-ICIT"><text class="n" x="297" y="547">ICIT</text></g>
<g id="n-FUM"><text class="n" x="165" y="590">FUM</text></g>
<g id="n-AKG"><text class="n" x="297" y="589">AKG</text></g>
<g id="n-GLT"><text class="n" x="384" y="589">GLT</text><text class="ast" x="402" y="585" fill="#c8c8c8">*</text></g>
<g id="n-SUCC"><text class="n" x="193" y="623">SUCC</text></g>
<g id="n-SUCCmedia"><text class="n" x="65" y="623">SUCC(media)</text></g>
<g id="n-SUCCOA"><text class="n" x="276" y="623">SUCCOA</text></g>
<g id="n-GLN"><text class="n" x="384" y="623">GLN</text><text class="ast" x="402" y="626" fill="#c8c8c8">*</text></g>
<g id="n-MET"><text class="n" x="386" y="271">MET</text><text class="ast" x="368" y="274" fill="#8b2d6e">*</text></g>
<g id="n-CYS"><text class="n" x="386" y="305">CYS</text><text class="ast" x="368" y="308" fill="#2c3e8f">*</text></g>
<g id="n-SER"><text class="n" x="386" y="337">SER</text><text class="ast" x="368" y="333" fill="#9dc85a">*</text></g>
<g id="n-GLY"><text class="n" x="385" y="371">GLY</text><text class="ast" x="368" y="374" fill="#8b2d6e">*</text></g>
<g id="n-VAL"><text class="n" x="384" y="426">VAL</text><text class="ast" x="402" y="429" fill="#8b2d6e">*</text></g>
<g id="n-LEU"><text class="n" x="386" y="458">LEU</text><text class="ast" x="368" y="461" fill="#8b2d6e">*</text></g>
<g id="n-ASP"><text class="n" x="385" y="492">ASP</text><text class="ast" x="368" y="503" fill="#9a9a9a">*</text></g>
<g id="n-ASN"><text class="n" x="384" y="524">ASN</text><text class="ast" x="402" y="527" fill="#8b2d6e">*</text></g>
<g id="n-ARG"><text class="n" x="384" y="557">ARG</text><text class="ast" x="402" y="560" fill="#8b2d6e">*</text></g>
<g id="n-HIS"><text class="ne" x="472" y="282">HIS</text><text class="ast" x="479" y="285" fill="#c8c8c8">*</text></g>
<g id="n-TRP"><text class="ne" x="473" y="316">TRP</text><text class="ast" x="480" y="319" fill="#8b2d6e">*</text></g>
<g id="n-PHE"><text class="ne" x="473" y="349">PHE</text><text class="ast" x="480" y="352" fill="#8b2d6e">*</text></g>
<g id="n-TYR"><text class="ne" x="473" y="382">TYR</text><text class="ast" x="480" y="385" fill="#8b2d6e">*</text></g>
<g id="n-ALA"><text class="ne" x="473" y="426">ALA</text><text class="ast" x="480" y="429" fill="#9a9a9a">*</text></g>
<g id="n-ILE"><text class="ne" x="473" y="458">ILE</text><text class="ast" x="480" y="461" fill="#8b2d6e">*</text></g>
<g id="n-THR"><text class="ne" x="473" y="492">THR</text><text class="ast" x="480" y="495" fill="#9a9a9a">*</text></g>
<g id="n-LYS"><text class="ne" x="473" y="524">LYS</text><text class="ast" x="480" y="527" fill="#8b2d6e">*</text></g>
<g id="n-PRO"><text class="ne" x="473" y="591">PRO</text><text class="ast" x="480" y="594" fill="#8b2d6e">*</text></g>
<g id="n-dGMP"><text class="n" x="523" y="70">dGMP</text></g>
<g id="n-dGDP"><text class="n" x="573" y="70">dGDP</text></g>
<g id="n-dGTP"><text class="n" x="625" y="70">dGTP</text></g>
<g id="n-GMP"><text class="n" x="523" y="117">GMP</text></g>
<g id="n-GDP"><text class="n" x="574" y="117">GDP</text></g>
<g id="n-GTP"><text class="n" x="624" y="117">GTP</text></g>
<g id="n-AMP"><text class="n" x="523" y="140">AMP</text></g>
<g id="n-ADP"><text class="n" x="574" y="140">ADP</text></g>
<g id="n-ATP"><text class="n" x="624" y="140">ATP</text></g>
<g id="n-dAMP"><text class="n" x="523" y="186">dAMP</text></g>
<g id="n-dADP"><text class="n" x="573" y="186">dADP</text></g>
<g id="n-dATP"><text class="n" x="625" y="186">dATP</text></g>
<g id="n-dTMP"><text class="n" x="523" y="232">dTMP</text></g>
<g id="n-dTDP"><text class="n" x="574" y="232">dTDP</text></g>
<g id="n-dTTP"><text class="n" x="625" y="232">dTTP</text></g>
<g id="n-dUMP"><text class="n" x="523" y="278">dUMP</text></g>
<g id="n-dUDP"><text class="n" x="574" y="278">dUDP</text></g>
<g id="n-dUTP"><text class="n" x="625" y="278">dUTP</text></g>
<g id="n-UMP"><text class="n" x="523" y="324">UMP</text></g>
<g id="n-UDP"><text class="n" x="574" y="324">UDP</text></g>
<g id="n-UTP"><text class="n" x="625" y="324">UTP</text></g>
<g id="n-CMP"><text class="n" x="523" y="370">CMP</text></g>
<g id="n-CDP"><text class="n" x="574" y="370">CDP</text></g>
<g id="n-CTP"><text class="n" x="625" y="370">CTP</text></g>
<g id="n-dCMP"><text class="n" x="523" y="417">dCMP</text></g>
<g id="n-dCDP"><text class="n" x="574" y="417">dCDP</text></g>
<g id="n-dCTP"><text class="n" x="625" y="417">dCTP</text></g>
<g id="n-t7dNTPs"><text class="n" x="649" y="503">t7dNTPs</text></g>
<g id="n-t7DNA"><text class="n" x="649" y="547">t7DNA</text></g>
<g id="n-10A"><text class="n" x="559" y="580">10A</text></g>
<g id="n-PC"><text class="n" x="616" y="580">PC</text></g>
<g id="n-T7"><text class="n" x="649" y="635">T7</text></g>
</g>

<g id="panelB">
<text class="n" transform="rotate(-90 15 736)" x="15" y="736" style="font-size:11.5px">Concentration</text>
<text class="n" transform="rotate(-90 28 736)" x="28" y="736" style="font-size:11.5px">(molecules/cell)</text>
<text class="n" x="368" y="799">Time (min)</text>
<g id="chart-i">
<text class="tt" x="81" y="695">i</text>
<path class="ax" d="M62,713V755 M55,713H62 M55,727H62 M55,741H62 M55,755H62"/>
<text class="tk" transform="rotate(-90 52 713)" x="52" y="713">0.2</text>
<text class="tk" transform="rotate(-90 52 753)" x="52" y="753">0.14</text>
<path class="ax" d="M62,762H100 M62,762V768 M69.6,762V768 M77.2,762V768 M84.8,762V768 M92.4,762V768 M100,762V768"/>
<text class="tk" x="62" y="784" style="font-size:11px">0</text><text class="tk" x="100" y="784" style="font-size:11px">20</text>
<path class="sp" style="stroke-width:1.2" d="M62,757L65,755L68,703L72,706L77,711L84,712L100,713"/>
</g>
<g id="chart-ii">
<text class="tt" x="152" y="695">ii</text>
<path class="ax" d="M133,709V757 M126,709H133 M126,725H133 M126,741H133 M126,757H133"/>
<text class="tk" transform="rotate(-90 123 709)" x="123" y="709">0.0015</text>
<text class="tk" transform="rotate(-90 123 757)" x="123" y="757">0</text>
<path class="ax" d="M133,762H171 M133,762V768 M140.6,762V768 M148.2,762V768 M155.8,762V768 M163.4,762V768 M171,762V768"/>
<text class="tk" x="133" y="784" style="font-size:11px">0</text><text class="tk" x="171" y="784" style="font-size:11px">20</text>
<path class="sp" style="stroke-width:1.2" d="M133,757L138,757L140,720L142,711L148,708L160,705L172,703"/>
</g>
<g id="chart-iii">
<text class="tt" x="223" y="695">iii</text>
<path class="ax" d="M204,713V750 M197,713H204 M197,732H204 M197,750H204"/>
<text class="tk" transform="rotate(-90 194 713)" x="194" y="713">0.15</text>
<text class="tk" transform="rotate(-90 194 750)" x="194" y="750">0.05</text>
<path class="ax" d="M204,762H242 M204,762V768 M211.6,762V768 M219.2,762V768 M226.8,762V768 M234.4,762V768 M242,762V768"/>
<text class="tk" x="204" y="784" style="font-size:11px">0</text><text class="tk" x="242" y="784" style="font-size:11px">20</text>
<path class="sr" style="stroke-width:1.2" d="M204,754L207,755L210,757L218,757L219,703L243,703"/>
</g>
<g id="chart-iv">
<text class="tt" x="295" y="695">iv</text>
<path class="ax" d="M276,703V757 M269,703H276 M269,712H276 M269,721H276 M269,730H276 M269,739H276 M269,748H276 M269,757H276"/>
<text class="tk" transform="rotate(-90 266 703)" x="266" y="703">0.6</text>
<text class="tk" transform="rotate(-90 266 757)" x="266" y="757">0</text>
<path class="ax" d="M276,762H314 M276,762V768 M283.6,762V768 M291.2,762V768 M298.8,762V768 M306.4,762V768 M314,762V768"/>
<text class="tk" x="276" y="784" style="font-size:11px">0</text><text class="tk" x="314" y="784" style="font-size:11px">20</text>
<path class="sr" style="stroke-width:1.2" d="M276,757L291,757L291,703L315,703"/>
</g>
<g id="chart-v">
<text class="tt" x="364" y="695">v</text>
<path class="ax" d="M345,708V750 M338,708H345 M338,716.4H345 M338,724.8H345 M338,733.2H345 M338,741.6H345 M338,750H345"/>
<text class="tk" transform="rotate(-90 335 708)" x="335" y="708">1.45</text>
<text class="tk" transform="rotate(-90 335 750)" x="335" y="750">1.2</text>
<path class="ax" d="M347,762H385 M347,762V768 M354.6,762V768 M362.2,762V768 M369.8,762V768 M377.4,762V768 M385,762V768"/>
<text class="tk" x="347" y="784" style="font-size:11px">0</text><text class="tk" x="385" y="784" style="font-size:11px">20</text>
<path class="sv" style="stroke-width:1.2" d="M347,727L350,727L352,703L356,730L361,736L365,740L369,746L374,757L376,750L386,752"/>
</g>
<g id="chart-vi">
<text class="tt" x="437" y="695">vi</text>
<path class="ax" d="M418,709V757 M411,709H418 M411,718.6H418 M411,728.2H418 M411,737.8H418 M411,747.4H418 M411,757H418"/>
<text class="tk" transform="rotate(-90 408 709)" x="408" y="709">2.5e−05</text>
<text class="tk" transform="rotate(-90 408 757)" x="408" y="757">0</text>
<path class="ax" d="M418,762H456 M418,762V768 M425.6,762V768 M433.2,762V768 M440.8,762V768 M448.4,762V768 M456,762V768"/>
<text class="tk" x="418" y="784" style="font-size:11px">0</text><text class="tk" x="456" y="784" style="font-size:11px">20</text>
<path class="sn" style="stroke-width:1.2" d="M418,757L422,757L423.5,703C425,718 432,732 457,744"/>
</g>
<g id="chart-vii">
<text class="tt" x="509" y="695">vii</text>
<path class="ax" d="M490,713V757 M483,713H490 M483,724H490 M483,735H490 M483,746H490 M483,757H490"/>
<text class="tk" transform="rotate(-90 480 713)" x="480" y="713">8e−04</text>
<text class="tk" transform="rotate(-90 480 757)" x="480" y="757">0</text>
<path class="ax" d="M490,762H528 M490,762V768 M497.6,762V768 M505.2,762V768 M512.8,762V768 M520.4,762V768 M528,762V768"/>
<text class="tk" x="490" y="784" style="font-size:11px">0</text><text class="tk" x="528" y="784" style="font-size:11px">20</text>
<path class="sk" style="stroke-width:1.2" d="M490,757L504,757C510,755 514,740 517,703L517,740L529,740"/>
</g>
<g id="chart-viii">
<text class="tt" x="581" y="695">viii</text>
<path class="ax" d="M562,706V755 M555,706H562 M555,715.8H562 M555,725.6H562 M555,735.4H562 M555,745.2H562 M555,755H562"/>
<text class="tk" transform="rotate(-90 552 706)" x="552" y="706">0.0125</text>
<text class="tk" transform="rotate(-90 552 755)" x="552" y="755">0.01</text>
<path class="ax" d="M562,762H600 M562,762V768 M569.6,762V768 M577.2,762V768 M584.8,762V768 M592.4,762V768 M600,762V768"/>
<text class="tk" x="562" y="784" style="font-size:11px">0</text><text class="tk" x="600" y="784" style="font-size:11px">20</text>
<path class="sb" style="stroke-width:1.2" d="M562,703L565,704L569,756L573,755L577,757L582,755L588,753L600,754"/>
</g>
<g id="chart-ix">
<text class="tt" x="652" y="695">ix</text>
<path class="ax" d="M633,703V754 M626,703H633 M626,711.5H633 M626,720H633 M626,728.5H633 M626,737H633 M626,745.5H633 M626,754H633"/>
<text class="tk" transform="rotate(-90 623 703)" x="623" y="703">1.5</text>
<text class="tk" transform="rotate(-90 623 754)" x="623" y="754">1.2</text>
<path class="ax" d="M633,762H671 M633,762V768 M640.6,762V768 M648.2,762V768 M655.8,762V768 M663.4,762V768 M671,762V768"/>
<text class="tk" x="633" y="784" style="font-size:11px">0</text><text class="tk" x="671" y="784" style="font-size:11px">20</text>
<path class="sb" style="stroke-width:1.2" d="M633,703L637,704L641,756L645,755L648,757L653,755L660,753L672,754"/>
</g>
</g>
</svg>
